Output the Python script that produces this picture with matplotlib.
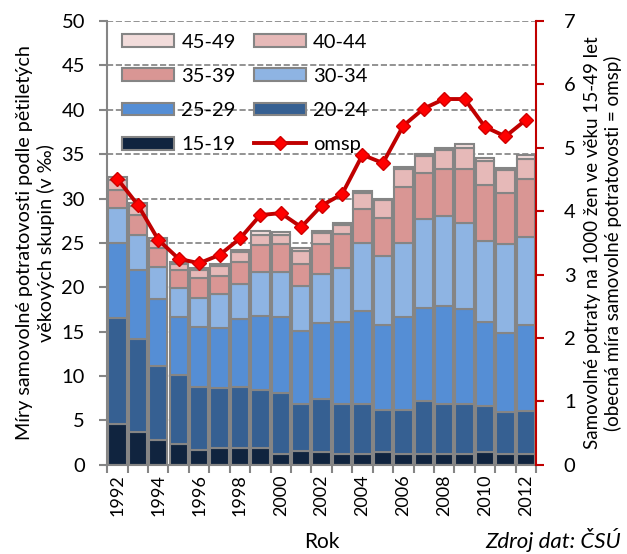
import numpy as np
import matplotlib
matplotlib.use('Agg')
import matplotlib.pyplot as plt
from matplotlib.patches import Patch
from matplotlib.lines import Line2D

plt.rcParams['font.family'] = ['Lato', 'DejaVu Sans']

years = list(range(1992, 2013))
groups = ['15-19', '20-24', '25-29', '30-34', '35-39', '40-44', '45-49']

# míry podle věkových skupin (v ‰)
r15_19 = [4.6, 3.7, 2.8, 2.4, 1.7, 1.9, 1.9, 1.9, 1.2, 1.5, 1.4, 1.2, 1.2, 1.4, 1.2, 1.2, 1.2, 1.2, 1.4, 1.2, 1.2]
r20_24 = [11.9, 10.5, 8.3, 7.7, 7.1, 6.7, 6.9, 6.5, 6.9, 5.4, 6.0, 5.6, 5.6, 4.8, 5.0, 6.0, 5.6, 5.6, 5.2, 4.7, 4.9]
r25_29 = [8.5, 7.8, 7.6, 6.5, 6.7, 6.8, 7.6, 8.4, 8.5, 8.2, 8.6, 9.3, 10.5, 9.6, 10.4, 10.5, 11.1, 10.7, 9.5, 8.9, 9.6]
r30_34 = [3.9, 3.9, 3.6, 3.3, 3.3, 3.8, 4.0, 4.9, 5.1, 5.1, 5.5, 6.1, 7.7, 7.7, 8.4, 10.0, 10.1, 9.7, 9.1, 10.1, 10.0]
r35_39 = [2.1, 2.3, 2.1, 2.1, 2.3, 2.1, 2.4, 3.1, 3.2, 2.4, 3.4, 3.8, 3.8, 4.3, 6.3, 5.2, 5.3, 6.1, 6.3, 5.7, 6.5]
r40_44 = [1.1, 1.0, 0.8, 0.6, 0.8, 1.1, 1.2, 1.1, 1.0, 1.5, 1.2, 1.0, 1.8, 2.0, 2.0, 1.9, 2.2, 2.4, 2.7, 2.6, 2.3]
r45_49 = [0.3, 0.3, 0.3, 0.3, 0.3, 0.2, 0.2, 0.4, 0.3, 0.3, 0.3, 0.3, 0.3, 0.2, 0.2, 0.2, 0.2, 0.4, 0.4, 0.2, 0.4]

# obecná míra samovolné potratovosti
omsp = [4.51, 4.10, 3.55, 3.25, 3.18, 3.31, 3.57, 3.94, 3.97, 3.75, 4.09, 4.27,
        4.89, 4.76, 5.35, 5.62, 5.77, 5.77, 5.33, 5.18, 5.44]

rates = [r15_19, r20_24, r25_29, r30_34, r35_39, r40_44, r45_49]
colors = ['#10243F', '#366092', '#558ED5', '#8EB4E3', '#D99694', '#E6B9B8', '#F2DCDB']
edge = '#858585'

fig = plt.figure(figsize=(6.27, 5.54), dpi=100)
ax = fig.add_axes([0.171, 0.161, 0.684, 0.801])
x = np.arange(len(years))

bottom = np.zeros(len(years))
for vals, c in zip(rates, colors):
    ax.bar(x, vals, bottom=bottom, width=0.9, color=c, edgecolor=edge, linewidth=1.5, zorder=2)
    bottom += np.array(vals)

ax.set_xlim(-0.5, len(years) - 0.5)
ax.set_ylim(0, 50)
ax.set_yticks(np.arange(0, 51, 5))
ax.yaxis.grid(True, linestyle='--', color='#808080', linewidth=1.2, zorder=0)
ax.set_axisbelow(True)

ax.set_xticks(x[::2])
ax.set_xticklabels([str(y) for y in years[::2]], rotation=90)
ax.set_xticks(np.arange(-0.5, len(years), 1), minor=True)
ax.tick_params(axis='x', which='major', length=0, labelsize=13, pad=7)
ax.tick_params(axis='x', which='minor', length=6, color=edge, width=1.5)
ax.tick_params(axis='y', labelsize=14.5, length=6, color=edge, width=1.5, pad=10)
for s in ['left', 'bottom']:
    ax.spines[s].set_color(edge)
    ax.spines[s].set_linewidth(1.5)
ax.spines['top'].set_visible(False)
ax.spines['right'].set_visible(False)

ax.set_ylabel('Míry samovolné potratovosti podle pětiletých\nvěkových skupin (v ‰)', fontsize=14.2, labelpad=5)
ax.set_xlabel('Rok', fontsize=15, labelpad=11)

ax2 = ax.twinx()
ax2.plot(x, omsp, color='#C00000', linewidth=2.8, marker='D', markersize=7,
         markerfacecolor='#FF0000', markeredgecolor='#D00000', zorder=5)
ax2.set_ylim(0, 7)
ax2.set_yticks(range(0, 8))
ax2.spines['right'].set_color('#C00000')
ax2.spines['right'].set_linewidth(1.5)
for s in ['left', 'top', 'bottom']:
    ax2.spines[s].set_visible(False)
ax2.tick_params(axis='y', labelsize=14.5, length=6, color='#C00000', width=1.5, pad=14)
ax2.set_ylabel('Samovolné potraty na 1000 žen ve věku 15-49 let\n(obecná míra samovolné potratovosti = omsp)',
               fontsize=13.5, labelpad=6)

# legenda: po sloupcích
h = {g: Patch(facecolor=c, edgecolor=edge, linewidth=1.5) for g, c in zip(groups, colors)}
line_h = Line2D([], [], color='#C00000', linewidth=2.8, marker='D', markersize=7,
                markerfacecolor='#FF0000', markeredgecolor='#D00000')
handles = [h['45-49'], h['35-39'], h['25-29'], h['15-19'], h['40-44'], h['30-34'], h['20-24'], line_h]
labels = ['45-49', '35-39', '25-29', '15-19', '40-44', '30-34', '20-24', 'omsp']
ax2.legend(handles, labels, ncol=2, loc='upper left', bbox_to_anchor=(-0.008, 1.012), frameon=False,
           fontsize=14.5, handlelength=2.6, handleheight=0.6, labelspacing=0.85, columnspacing=0.9,
           handletextpad=0.35)

fig.text(0.99, 0.004, 'Zdroj dat: ČSÚ', ha='right', va='bottom', fontsize=16, style='italic')

fig.savefig('out.png', dpi=100)
